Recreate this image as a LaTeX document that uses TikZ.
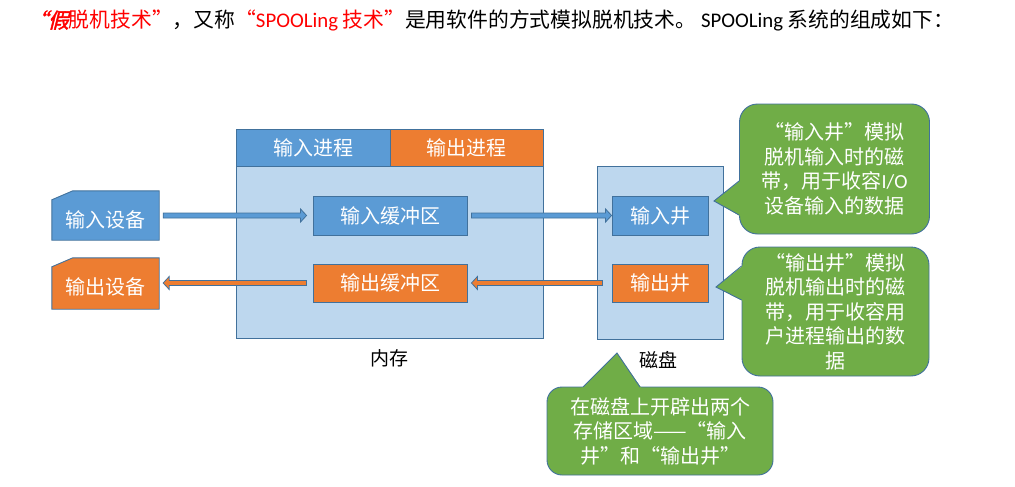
\documentclass[tikz,border=0pt]{standalone}
\usepackage{fontspec}
\usetikzlibrary{calc}
\newfontfamily\cjk{Noto Sans CJK SC}
\newfontfamily\cjkbi{Noto Sans CJK SC}[FakeSlant=0.25,FakeBold=2]
\newfontfamily\lat{Carlito}
\definecolor{cblue}{HTML}{5B9BD5}
\definecolor{corange}{HTML}{ED7D31}
\definecolor{clight}{HTML}{BDD7EE}
\definecolor{cgreen}{HTML}{70AD47}
\definecolor{cborder}{HTML}{41719C}
\definecolor{cred}{HTML}{FF0000}
\newcommand\blockarr[5]{\draw[#1] let \p1=(#2), \p2=(#3), \n1={sign(\x2-\x1)} in
 ({\x1+(\n1)*#4}, {\y1-2.5pt}) -- ({\x2-(\n1)*#5-(\n1)*6pt}, {\y1-2.5pt}) -- ({\x2-(\n1)*#5-(\n1)*6pt}, {\y1-6.5pt}) -- ({\x2-(\n1)*#5}, \y1) -- ({\x2-(\n1)*#5-(\n1)*6pt}, {\y1+6.5pt}) -- ({\x2-(\n1)*#5-(\n1)*6pt}, {\y1+2.5pt}) -- ({\x1+(\n1)*#4}, {\y1+2.5pt}) -- cycle;}
\begin{document}
\begin{tikzpicture}[x=1pt,y=-1pt,
  font=\cjk\fontsize{20}{24.5}\selectfont,
  box/.style={draw=cborder,line width=0.9pt,inner sep=0pt,text=white,anchor=center},
  bluebox/.style={box,fill=cblue},
  orangebox/.style={box,fill=corange},
  lightbox/.style={box,fill=clight},
  callout/.style={draw=cborder,line width=0.9pt,fill=cgreen,rounded corners=18pt,inner sep=0pt,text=white,align=center},
  blueArr/.style={draw=cborder,line width=0.8pt,fill=cblue},
  orangeArr/.style={draw=cborder,line width=0.8pt,fill=corange},
  lbl/.style={text=black,inner sep=0pt,font=\cjk\fontsize{19}{22}\selectfont}]
\useasboundingbox (0,0) rectangle (1015,487);
% title
\node[anchor=base west,inner sep=0pt,font=\cjk\fontsize{20.8}{24}\selectfont] (title) at (27,28) {{\color{cred}\cjkbi “假}{\color{cred}脱机技术”}，又称{\color{cred}“{\lat SPOOLing} 技术”}是用软件的方式模拟脱机技术。\ {\lat SPOOLing} 系统的组成如下：};
% memory
\node[lightbox,minimum width=307,minimum height=209] (mem) at (389.5,233.5) {};
\node[bluebox,minimum width=154,minimum height=37] (inproc) at (313,147.5) {输入进程};
\node[orangebox,minimum width=153,minimum height=37] (outproc) at (466.5,147.5) {输出进程};
\node[bluebox,minimum width=154,minimum height=39] (inbuf) at (390,215.5) {输入缓冲区};
\node[orangebox,minimum width=154,minimum height=38] (outbuf) at (390,283) {输出缓冲区};
\node[lbl] (memlbl) at (389,358) {内存};
% devices
\node[inner sep=0pt,text=white,minimum width=107,minimum height=49] (indev) at (105.5,215.5) {};
\draw[bluebox] (indev.south west) -- ($(indev.north west)+(0,9)$) -- ($(indev.north west)+(21,0)$) -- (indev.north east) -- (indev.south east) -- cycle;
\node[text=white,inner sep=0pt] (indevt) at ($(indev.center)+(0,4)$) {输入设备};
\node[inner sep=0pt,text=white,minimum width=107,minimum height=51] (outdev) at (105.5,283.5) {};
\draw[orangebox] (outdev.south west) -- ($(outdev.north west)+(0,9)$) -- ($(outdev.north west)+(21,0)$) -- (outdev.north east) -- (outdev.south east) -- cycle;
\node[text=white,inner sep=0pt] (outdevt) at ($(outdev.center)+(0,3)$) {输出设备};
% disk
\node[lightbox,minimum width=126,minimum height=173] (disk) at (660,252.5) {};
\node[bluebox,minimum width=96,minimum height=39] (inwell) at (660,215.5) {输入井};
\node[orangebox,minimum width=96,minimum height=38] (outwell) at (660,283) {输出井};
\node[lbl] (disklbl) at (658,360) {磁盘};
% arrows
\blockarr{blueArr}{indev.east}{inbuf.west}{4pt}{6pt}
\blockarr{blueArr}{inbuf.east}{inwell.west}{4pt}{0pt}
\blockarr{orangeArr}{outwell.west}{outbuf.east}{9pt}{4pt}
\blockarr{orangeArr}{outbuf.west}{outdev.east}{6pt}{4pt}
% callouts
\node[callout,minimum width=190,minimum height=130] (c1) at (834.5,169) {“输入井”模拟\\脱机输入时的磁\\带，用于收容{\lat I/O}\\设备输入的数据};
\fill[cgreen] (714,201) -- (742,179) -- (742,217) -- cycle;
\draw[draw=cborder,line width=0.9pt] (c1.west |- 0,181) -- (714,201) -- (c1.west |- 0,215);
\node[callout,minimum width=187,minimum height=129] (c2) at (835.5,311.5) {“输出井”模拟\\脱机输出时的磁\\带，用于收容用\\户进程输出的数\\据};
\fill[cgreen] (716,287) -- (745,264) -- (745,302) -- cycle;
\draw[draw=cborder,line width=0.9pt] (c2.west |- 0,266) -- (716,287) -- (c2.west |- 0,300);
\node[callout,rounded corners=15pt,minimum width=226,minimum height=88] (c3) at (660,431) {在磁盘上开辟出两个\\存储区域——“输入\\井”和“输出井”};
\fill[cgreen] (617,353) -- (581,389) -- (642,389) -- cycle;
\draw[draw=cborder,line width=0.9pt] (583,387) -- (617,353) -- (640,387);
\end{tikzpicture}
\end{document}
